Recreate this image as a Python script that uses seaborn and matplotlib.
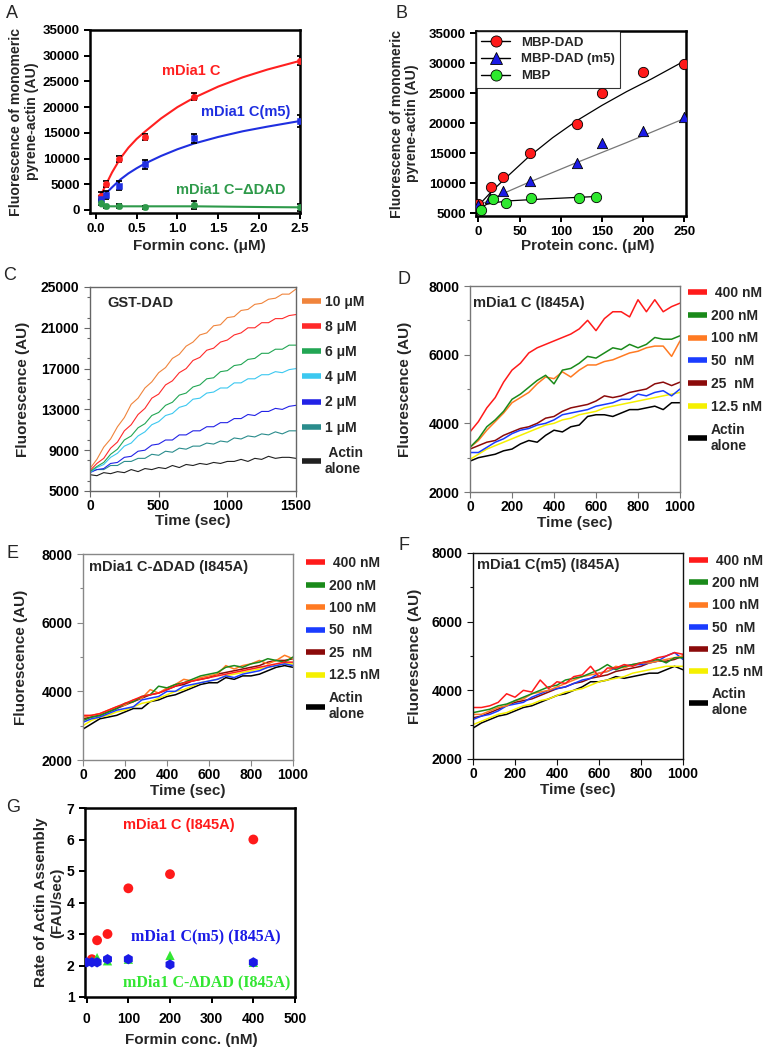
import numpy as np
import pandas as pd
import seaborn as sns
import matplotlib.pyplot as plt
from matplotlib.lines import Line2D
from matplotlib.ticker import MultipleLocator

# ---------------- data ----------------
# A: monomeric pyrene-actin vs formin
a_x = [0.06, 0.125, 0.28, 0.6, 1.2, 2.5]
a_c = [2800, 5000, 9900, 14200, 22000, 29000]
a_c_err = [600, 600, 600, 600, 700, 900]
a_m5 = [2100, 2900, 4700, 8900, 13900, 17300]
a_m5_err = [600, 800, 900, 900, 900, 1200]
a_dad = [1400, 700, 800, 500, 900, 500]
a_dad_err = [500, 300, 400, 300, 800, 700]
a_fit_x = [0.06, 0.1, 0.2, 0.3, 0.4, 0.5, 0.6, 0.8, 1.0, 1.2, 1.5, 1.8, 2.1, 2.5]
a_fit_c = [2800, 4100, 7300, 10000, 12100, 13800, 15200, 17800, 20000, 21800, 24000, 25800, 27300, 29000]
a_fit_m5 = [2000, 2800, 4400, 5900, 7100, 8100, 9000, 10500, 11800, 12900, 14200, 15300, 16200, 17300]
a_fit_dad = [700, 700, 700, 700, 700, 700, 700, 700, 700, 700, 650, 600, 550, 500]

# B: protein titration
b_dad_x = [0, 15, 30, 62, 120, 150, 200, 250]
b_dad = [6500, 9400, 11100, 15100, 19900, 25100, 28500, 29900]
b_m5_x = [0, 14, 30, 62, 120, 150, 200, 250]
b_m5 = [6400, 7600, 8700, 10400, 13400, 16800, 18800, 21100]
b_mbp_x = [3, 18, 34, 64, 122, 143]
b_mbp = [5600, 7400, 6700, 7500, 7600, 7800]
b_fit_dad_x = [0, 15, 30, 60, 90, 120, 150, 180, 210, 250]
b_fit_dad = [6300, 8500, 10500, 14300, 17600, 20500, 23000, 25300, 27400, 30400]
b_fit_m5_x = [0, 30, 60, 120, 180, 250]
b_fit_m5 = [6300, 8300, 10100, 13500, 16800, 20800]
b_fit_mbp_x = [0, 10, 20, 40, 80, 143]
b_fit_mbp = [5700, 6500, 6800, 7100, 7400, 7800]

# C: GST-DAD time courses (every 50 s)
c_time = np.arange(0, 1501, 50)
c_labels = ["10 \u03bcM", "8 \u03bcM", "6 \u03bcM", "4 \u03bcM", "2 \u03bcM", "1 \u03bcM", " Actin\nalone"]
c_10 = [7200, 8100, 9300, 10100, 11300, 12200, 13500, 14100, 15100, 15700, 16600, 17100, 18000, 18400, 19200, 19600,
        20300, 20500, 21200, 21300, 22000, 22100, 22700, 22800, 23300, 23400, 23800, 23900, 24300, 24300, 24800]
c_8 = [7000, 7700, 8200, 9200, 9800, 10900, 11500, 12500, 13100, 14100, 14500, 15400, 15800, 16600, 17000, 17800,
       18100, 18800, 19000, 19600, 19800, 20300, 20500, 21000, 21000, 21500, 21500, 21900, 21900, 22200, 22300]
c_6 = [6900, 7400, 7800, 8600, 9100, 10000, 10400, 11200, 11600, 12400, 12700, 13400, 13700, 14400, 14600, 15200,
       15400, 16000, 16100, 16700, 16800, 17300, 17400, 17900, 18000, 18500, 18500, 18900, 18900, 19300, 19300]
c_4 = [6800, 7300, 7600, 8300, 8700, 9400, 9700, 10400, 10800, 11500, 11800, 12400, 12600, 13200, 13400, 14000,
       14100, 14600, 14700, 15100, 15100, 15600, 15600, 16000, 16000, 16400, 16400, 16700, 16600, 16900, 17000]
c_2 = [6800, 7100, 7200, 7700, 7800, 8300, 8400, 8900, 9000, 9500, 9600, 10000, 10000, 10500, 10500, 10900,
       10900, 11300, 11300, 11700, 11700, 12100, 12100, 12500, 12400, 12800, 12800, 13100, 13000, 13300, 13400]
c_1 = [6900, 7100, 7100, 7500, 7500, 7900, 7900, 8200, 8200, 8600, 8500, 8900, 8800, 9200, 9100, 9400,
       9400, 9700, 9600, 9900, 9800, 10200, 10100, 10400, 10300, 10600, 10500, 10800, 10600, 10900, 10900]
c_0 = [6600, 6500, 6800, 6700, 6900, 6800, 7100, 6900, 7200, 7100, 7300, 7200, 7500, 7300, 7600, 7500,
       7700, 7600, 7800, 7700, 7900, 7900, 8100, 7900, 8200, 8100, 8400, 8200, 8300, 8300, 8200]
c_colors = ["#F0843C", "#FF2A2A", "#22A654", "#3CC8F0", "#2222E6", "#2A8C8C", "#202020"]

# D-F: formin I845A time courses (every 40 s)
t_time = np.arange(0, 1001, 40)
t_labels = [" 400 nM", "200 nM", "100 nM", "50  nM", "25  nM", "12.5 nM", "Actin\nalone"]
t_colors = ["#FF1A1A", "#1A8A1A", "#FF7A22", "#1A3CFF", "#8B0A0A", "#F5F000", "#000000"]

d_400 = [3750, 4050, 4450, 4750, 5200, 5550, 5750, 6050, 6200, 6300, 6400, 6500, 6600, 6750, 7000, 6700,
         7050, 7250, 7250, 7100, 7600, 7250, 7600, 7250, 7400, 7500]
d_200 = [3300, 3550, 3900, 4100, 4350, 4700, 4850, 5050, 5250, 5400, 5150, 5550, 5600, 5750, 5950, 5900,
         6050, 6200, 6150, 6300, 6200, 6300, 6500, 6450, 6450, 6550]
d_100 = [3300, 3500, 3800, 4050, 4300, 4600, 4750, 4900, 5150, 5350, 5300, 5500, 5350, 5550, 5700, 5700,
         5800, 5850, 5950, 6050, 6100, 6200, 6250, 6250, 5950, 6400]
d_50 = [3150, 3150, 3300, 3450, 3550, 3700, 3800, 3850, 3950, 4000, 4100, 4250, 4300, 4350, 4400, 4500,
        4550, 4600, 4700, 4700, 4850, 4800, 4900, 4950, 4800, 5000]
d_25 = [3250, 3350, 3450, 3500, 3650, 3750, 3850, 3900, 4000, 4150, 4200, 4350, 4450, 4500, 4550, 4650,
        4800, 4750, 4800, 4900, 4950, 5000, 5150, 5200, 5100, 5200]
d_12 = [2950, 3100, 3250, 3350, 3450, 3550, 3650, 3750, 3850, 3950, 4000, 4100, 4150, 4250, 4300, 4350,
        4450, 4500, 4550, 4600, 4650, 4700, 4750, 4800, 4850, 4900]
d_0 = [2900, 3000, 3050, 3100, 3200, 3250, 3400, 3500, 3450, 3650, 3800, 3750, 3900, 3950, 4200, 4250,
       4250, 4200, 4300, 4400, 4400, 4450, 4500, 4400, 4600, 4600]

e_400 = [3300, 3300, 3350, 3450, 3550, 3650, 3750, 3850, 3900, 3950, 4050, 4150, 4250, 4300, 4350, 4400,
         4450, 4500, 4550, 4600, 4650, 4700, 4750, 4800, 4850, 4850]
e_200 = [3150, 3250, 3300, 3400, 3500, 3650, 3700, 3850, 3900, 4150, 4100, 4200, 4250, 4350, 4450, 4500,
         4550, 4700, 4750, 4700, 4800, 4850, 4950, 4900, 4850, 5000]
e_100 = [3250, 3300, 3350, 3450, 3550, 3600, 3750, 3800, 4050, 3950, 4100, 4200, 4350, 4300, 4400, 4450,
         4500, 4750, 4650, 4750, 4800, 4900, 4800, 4900, 5050, 4950]
e_50 = [3100, 3200, 3250, 3350, 3450, 3500, 3550, 3750, 3800, 3850, 4000, 4000, 4150, 4200, 4250, 4300,
        4350, 4450, 4400, 4500, 4550, 4600, 4700, 4750, 4800, 4750]
e_25 = [3200, 3250, 3300, 3400, 3500, 3600, 3700, 3800, 3900, 3950, 4050, 4150, 4200, 4300, 4350, 4400,
        4500, 4550, 4600, 4650, 4700, 4750, 4850, 4900, 4900, 4950]
e_12 = [3000, 3150, 3250, 3300, 3400, 3450, 3550, 3650, 3700, 3800, 3900, 4000, 4050, 4150, 4250, 4300,
        4350, 4450, 4500, 4550, 4600, 4650, 4700, 4750, 4800, 4800]
e_0 = [2900, 3050, 3200, 3250, 3300, 3400, 3500, 3500, 3700, 3750, 3850, 3900, 4000, 4100, 4200, 4250,
       4250, 4400, 4350, 4450, 4450, 4500, 4600, 4700, 4750, 4700]

f_400 = [3500, 3500, 3550, 3650, 3900, 3800, 4000, 3950, 4300, 4050, 4250, 4200, 4400, 4450, 4700, 4400,
         4650, 4650, 4750, 4700, 4800, 4850, 4950, 5000, 5100, 5050]
f_200 = [3350, 3400, 3450, 3550, 3600, 3700, 3800, 3900, 4000, 4100, 4150, 4300, 4350, 4400, 4500, 4600,
         4750, 4600, 4700, 4750, 4800, 4850, 4900, 4800, 4950, 4950]
f_100 = [3300, 3300, 3400, 3500, 3550, 3700, 3750, 3900, 3950, 4000, 4100, 4200, 4300, 4400, 4450, 4500,
         4550, 4700, 4650, 4750, 4800, 4800, 4850, 4900, 4950, 5000]
f_50 = [3150, 3250, 3300, 3400, 3550, 3600, 3650, 3800, 3900, 4000, 4050, 4100, 4200, 4300, 4350, 4500,
        4550, 4650, 4700, 4750, 4750, 4800, 4850, 5000, 5100, 4900]
f_25 = [3200, 3250, 3350, 3450, 3550, 3650, 3700, 3750, 3850, 3950, 4050, 4100, 4200, 4250, 4350, 4400,
        4450, 4550, 4600, 4650, 4700, 4800, 4850, 4850, 4900, 5000]
f_12 = [3000, 3100, 3200, 3300, 3350, 3450, 3550, 3600, 3700, 3750, 3850, 3950, 4000, 4050, 4150, 4250,
        4300, 4350, 4400, 4500, 4550, 4600, 4650, 4700, 4700, 4700]
f_0 = [2900, 3050, 3150, 3250, 3300, 3400, 3500, 3550, 3650, 3750, 3850, 3900, 4000, 4100, 4250, 4250,
       4300, 4400, 4350, 4400, 4450, 4500, 4500, 4600, 4700, 4600]

# G: rate of actin assembly
g_c_x = [12.5, 25, 50, 100, 200, 400]
g_c = [2.2, 2.8, 3.0, 4.45, 4.9, 6.0]
g_dad_x = [12.5, 25, 50, 100, 200, 400]
g_dad = [2.15, 2.25, 2.15, 2.2, 2.32, 2.1]
g_m5_x = [0, 12.5, 25, 50, 100, 200, 400]
g_m5 = [2.1, 2.1, 2.1, 2.2, 2.2, 2.03, 2.1]

# ---------------- style ----------------
sns.set_theme(style="ticks")
plt.rcParams['font.family'] = ['Liberation Sans', 'DejaVu Sans']
plt.rcParams['font.weight'] = 'bold'
plt.rcParams['axes.labelweight'] = 'bold'
plt.rcParams['xtick.labelsize'] = 10
plt.rcParams['ytick.labelsize'] = 10

W, H = 764, 1050
fig = plt.figure(figsize=(W / 100, H / 100), dpi=100)


def place(l, t, r, b):
    return fig.add_axes([l / W, 1 - b / H, (r - l) / W, (b - t) / H])


def frame(ax, color, lw, tsize=10):
    for s in ax.spines.values():
        s.set_visible(True)
        s.set_color(color)
        s.set_linewidth(lw)
    ax.tick_params(which='both', direction='out', color=color, width=lw * 0.8, length=4,
                   labelcolor='black', labelsize=tsize)
    ax.tick_params(which='minor', length=2.5)
    for lab in ax.get_xticklabels() + ax.get_yticklabels():
        lab.set_fontweight('bold')


def letter(x, y, s):
    fig.text(x / W, 1 - y / H, s, fontsize=13, fontweight='normal', ha='center', va='center')


# ---------------- A ----------------
ax = place(90, 30, 300, 213)
sns.lineplot(x=a_fit_x, y=a_fit_c, color='#FF2020', lw=1.5, sort=False, ax=ax)
sns.lineplot(x=a_fit_x, y=a_fit_m5, color='#1F2FE0', lw=1.5, sort=False, ax=ax)
sns.lineplot(x=a_fit_x, y=a_fit_dad, color='#2E9A4A', lw=1.5, sort=False, ax=ax)
for ys, es, col, mk in [(a_c, a_c_err, '#FF2020', 'o'), (a_m5, a_m5_err, '#1F2FE0', 's'),
                        (a_dad, a_dad_err, '#2E9A4A', 'o')]:
    ax.errorbar(a_x, ys, yerr=es, fmt='none', ecolor='black', elinewidth=1.3, capsize=2, capthick=1.3, zorder=3)
    sns.scatterplot(x=a_x, y=ys, color=col, marker=mk, s=22, edgecolor=col, zorder=4, ax=ax)
ax.set_xlim(-0.07, 2.5)
ax.set_ylim(-600, 35000)
ax.set_xticks([0.0, 0.5, 1.0, 1.5, 2.0, 2.5])
ax.set_xticklabels(['0.0', '0.5', '1.0', '1.5', '2.0', '2.5'])
ax.set_yticks(range(0, 35001, 5000))
ax.text(1.17, 27050, 'mDia1 C', color='#FF2020', fontsize=10.5, fontweight='bold', ha='center', va='center')
ax.text(1.83, 19100, 'mDia1 C(m5)', color='#1F2FE0', fontsize=10.5, fontweight='bold', ha='center', va='center')
ax.text(1.65, 3800, 'mDia1 C\u2212\u0394DAD', color='#2E9A4A', fontsize=10.5, fontweight='bold',
        ha='center', va='center')
ax.set_xlabel('Formin conc. (\u03bcM)', fontsize=11)
ax.set_ylabel('Fluorescence of monomeric\npyrene-actin (AU)', fontsize=10.2, linespacing=1.15)
ax.yaxis.set_label_coords(-0.245, 0.5)
ax.xaxis.set_label_coords(0.52, -0.14)
frame(ax, 'black', 1.8, 9.5)
letter(12, 14, 'A')

# ---------------- B ----------------
ax = place(476, 31, 686, 216)
sns.lineplot(x=b_fit_dad_x, y=b_fit_dad, color='black', lw=0.9, sort=False, ax=ax)
sns.lineplot(x=b_fit_m5_x, y=b_fit_m5, color='#777777', lw=0.9, sort=False, ax=ax)
sns.lineplot(x=b_fit_mbp_x, y=b_fit_mbp, color='black', lw=0.9, sort=False, ax=ax)
sns.scatterplot(x=b_dad_x, y=b_dad, color='#FF1A1A', marker='o', s=55, edgecolor='black', linewidth=0.6, zorder=4, ax=ax)
sns.scatterplot(x=b_m5_x, y=b_m5, color='#1A1AE6', marker='^', s=55, edgecolor='black', linewidth=0.6, zorder=4, ax=ax)
sns.scatterplot(x=b_mbp_x, y=b_mbp, color='#2EE82E', marker='o', s=55, edgecolor='black', linewidth=0.6, zorder=4, ax=ax)
ax.set_xlim(-3, 252)
ax.set_ylim(4550, 35400)
ax.set_xticks(range(0, 251, 50))
ax.set_yticks(range(5000, 35001, 5000))
handles = [Line2D([], [], color='black', lw=1, marker='o', ms=8, mfc='#FF1A1A', mec='black', mew=0.6),
           Line2D([], [], color='black', lw=1, marker='^', ms=8, mfc='#1A1AE6', mec='black', mew=0.6),
           Line2D([], [], color='black', lw=1, marker='o', ms=8, mfc='#2EE82E', mec='black', mew=0.6)]
leg = ax.legend(handles, ['MBP-DAD', 'MBP-DAD (m5)', 'MBP'], loc='upper left', bbox_to_anchor=(0.0, 1.0),
                fontsize=9.5, frameon=True, fancybox=False, borderaxespad=0.0, handlelength=2.2,
                labelspacing=0.35, borderpad=0.4)
leg.get_frame().set_edgecolor('black')
leg.get_frame().set_linewidth(0.8)
for t in leg.get_texts():
    t.set_fontweight('bold')
ax.set_xlabel('Protein conc. (\u03bcM)', fontsize=11)
ax.set_ylabel('Fluorescence of monomeric\npyrene-actin (AU)', fontsize=10.2, linespacing=1.15)
ax.yaxis.set_label_coords(-0.27, 0.5)
ax.xaxis.set_label_coords(0.53, -0.125)
frame(ax, 'black', 1.8, 9.5)
letter(401, 13, 'B')


# ---------------- time-course panels ----------------
def traces(ax, t, series, labels, colors, lw, anchor, spacing):
    df = pd.concat([pd.DataFrame({'time': t, 'value': v, 'conc': lab}) for v, lab in zip(series, labels)])
    order = labels[::-1]
    sns.lineplot(data=df, x='time', y='value', hue='conc', hue_order=order,
                 palette=dict(zip(labels, colors)), estimator=None, sort=False, lw=lw, legend=False, ax=ax)
    hs = [Line2D([], [], color=c, lw=4, solid_capstyle='butt') for c in colors]
    leg = ax.legend(hs, labels, loc='upper left', bbox_to_anchor=anchor, frameon=False, fontsize=10,
                    handlelength=1.35, handletextpad=0.3, labelspacing=spacing, borderaxespad=0.0,
                    borderpad=0.0)
    for tx in leg.get_texts():
        tx.set_fontweight('bold')
    ax.set_xlabel('Time (sec)', fontsize=11)
    ax.set_ylabel('Fluorescence (AU)', fontsize=11)


# C
ax = place(90, 287, 296, 491)
traces(ax, c_time, [c_10, c_8, c_6, c_4, c_2, c_1, c_0], c_labels, c_colors, 0.8, (1.029, 0.961), 0.8)
ax.set_xlim(0, 1500)
ax.set_ylim(5000, 25000)
ax.set_xticks([0, 500, 1000, 1500])
ax.set_yticks(range(5000, 25001, 4000))
ax.yaxis.set_minor_locator(MultipleLocator(2000))
ax.text(0.085, 0.92, 'GST-DAD', transform=ax.transAxes, fontsize=10.5, fontweight='bold', va='center')
ax.yaxis.set_label_coords(-0.29, 0.5)
ax.xaxis.set_label_coords(0.5, -0.115)
frame(ax, '#666666', 1.0)
ax.tick_params(axis='x', pad=2)
letter(10, 275, 'C')

panels = [
    ((470, 286, 680, 492), [d_400, d_200, d_100, d_50, d_25, d_12, d_0], 'mDia1 C (I845A)', (0.016, 0.916),
     -0.278, (404, 280), 'D', '#777777', (1.038, 1.0), 0.63),
    ((83, 554, 293, 760), [e_400, e_200, e_100, e_50, e_25, e_12, e_0], 'mDia1 C-\u0394DAD (I845A)', (0.03, 0.938),
     -0.26, (12, 553), 'E', '#888888', (1.062, 0.99), 0.61),
    ((473, 553, 683, 759), [f_400, f_200, f_100, f_50, f_25, f_12, f_0], 'mDia1 C(m5) (I845A)', (0.018, 0.942),
     -0.244, (404, 545), 'F', '#111111', (1.029, 0.995), 0.59),
]
for box, series, title, tpos, ylx, lpos, lname, fcol, anchor, spacing in panels:
    ax = place(*box)
    traces(ax, t_time, series, t_labels, t_colors, 1.1, anchor, spacing)
    ax.set_xlim(0, 1000)
    ax.set_ylim(2000, 8000)
    ax.set_xticks(range(0, 1001, 200))
    ax.set_yticks(range(2000, 8001, 2000))
    ax.yaxis.set_minor_locator(MultipleLocator(1000))
    ax.text(tpos[0], tpos[1], title, transform=ax.transAxes, fontsize=10.5, fontweight='bold', va='center')
    ax.yaxis.set_label_coords(ylx, 0.5)
    ax.xaxis.set_label_coords(0.5, -0.115)
    frame(ax, fcol, 1.0)
    ax.tick_params(axis='x', pad=2)
    letter(lpos[0], lpos[1], lname)

# ---------------- G ----------------
ax = place(85, 808, 295, 997)
sns.scatterplot(x=g_c_x, y=g_c, color='#FF1A1A', marker='o', s=50, edgecolor='none', zorder=3, ax=ax)
sns.scatterplot(x=g_dad_x, y=g_dad, color='#33E633', marker='^', s=45, edgecolor='none', zorder=4, ax=ax)
sns.scatterplot(x=g_m5_x, y=g_m5, color='#1A1AE6', marker='h', s=55, edgecolor='none', zorder=5, ax=ax)
ax.set_xlim(-4, 500)
ax.set_ylim(1, 7)
ax.set_xticks(range(0, 501, 100))
ax.set_yticks(range(1, 8))
ax.text(221, 6.45, 'mDia1 C (I845A)', color='#FF1A1A', fontsize=10.5, fontweight='bold', ha='center', va='center')
ax.text(287, 2.93, 'mDia1 C(m5) (I845A)', color='#1A1AE6', fontsize=11.5, fontweight='bold', ha='center',
        va='center', family=['Liberation Serif', 'DejaVu Serif'])
ax.text(287, 1.45, 'mDia1 C-\u0394DAD (I845A)', color='#33E633', fontsize=11.5, fontweight='bold', ha='center',
        va='center', family=['Liberation Serif', 'DejaVu Serif'])
ax.set_xlabel('Formin conc. (nM)', fontsize=11)
ax.set_ylabel('Rate of Actin Assembly\n(FAU/sec)', fontsize=11, linespacing=1.15)
ax.yaxis.set_label_coords(-0.1, 0.5)
ax.xaxis.set_label_coords(0.505, -0.19)
frame(ax, 'black', 1.8)
ax.tick_params(axis='x', pad=7)
letter(13, 807, 'G')

fig.savefig('out.png', dpi=100)
